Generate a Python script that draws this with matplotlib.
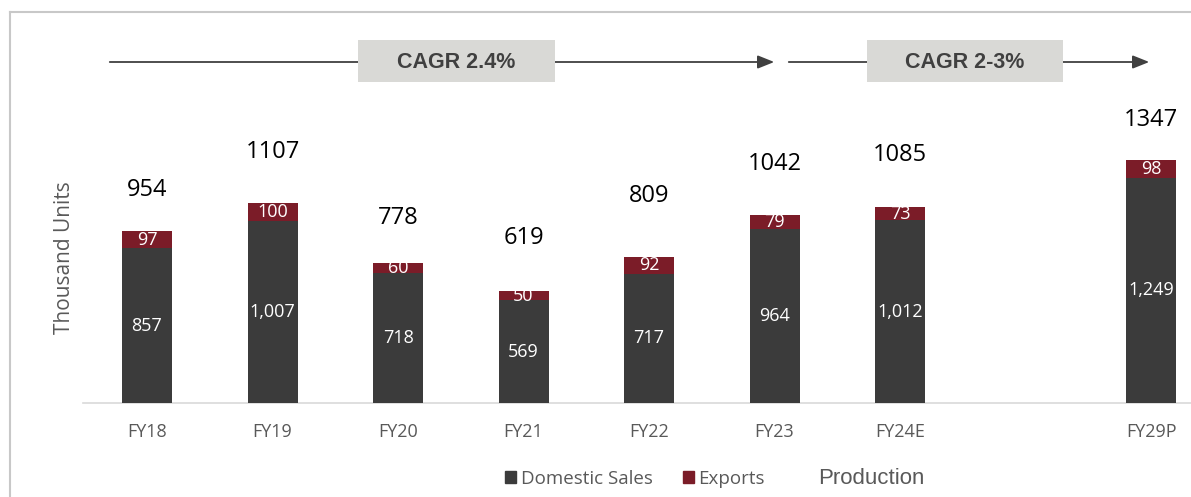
import matplotlib.pyplot as plt
from matplotlib.patches import Patch
from matplotlib.lines import Line2D

# Data
years = ["FY18", "FY19", "FY20", "FY21", "FY22", "FY23", "FY24E", "FY29P"]
slots = [0, 1, 2, 3, 4, 5, 6, 8]          # FY29P sits after an empty slot
domestic = [857, 1007, 718, 569, 717, 964, 1012, 1249]
exports = [97, 100, 60, 50, 92, 79, 73, 98]
totals = [954, 1107, 778, 619, 809, 1042, 1085, 1347]
total_label_y = [1180, 1391, 1025, 914, 1147, 1324, 1374, 1568]
cagr_text = ["CAGR 2.4%", "CAGR 2-3%"]

dark = "#3b3b3b"
maroon = "#7b1c28"
grey_txt = "#595959"
font = "Open Sans"

W, H = 1191, 497
fig = plt.figure(figsize=(W / 100, H / 100), dpi=100)
ax = fig.add_axes([0, 0, 1, 1])

# map pixels -> data: bar centres at 147 + 125.5*slot, baseline at 94 px from bottom
px_per_slot = 125.5
px_per_unit = 0.1805
ax.set_xlim(-147 / px_per_slot, (W - 147) / px_per_slot)
ax.set_ylim(-94 / px_per_unit, (H - 94) / px_per_unit)
ax.axis("off")

bw = 50 / px_per_slot
ax.bar(slots, domestic, bw, color=dark, zorder=3)
ax.bar(slots, exports, bw, bottom=domestic, color=maroon, zorder=3)

for s, d, e, t, ty in zip(slots, domestic, exports, totals, total_label_y):
    ax.text(s, d / 2, f"{d:,}", ha="center", va="center", color="white",
            fontsize=13, family=font, zorder=4)
    ax.text(s, d + e / 2, f"{e}", ha="center", va="center", color="white",
            fontsize=13, family=font, zorder=4)
    ax.text(s, ty, f"{t}", ha="center", va="center", color="black",
            fontsize=17, family=font)
    ax.text(s, -160, years[slots.index(s)], ha="center", va="center",
            color=grey_txt, fontsize=13, family=font)

# baseline
ax.add_line(Line2D([83 / W, 1], [94 / H, 94 / H], transform=ax.transAxes,
                   color="#d9d9d9", lw=1.2))

# frame
ax.add_line(Line2D([10 / W, 10 / W], [0, (H - 12) / H], transform=ax.transAxes,
                   color="#c8c8c8", lw=1.5))
ax.add_line(Line2D([10 / W, 1], [(H - 12) / H, (H - 12) / H],
                   transform=ax.transAxes, color="#c8c8c8", lw=1.5))

# y label
ax.text(65 / W, (H - 258) / H, "Thousand Units", rotation=90, ha="center",
        va="center", color=grey_txt, fontsize=15, family=font,
        transform=ax.transAxes)

# CAGR arrows and boxes
ay = (H - 62) / H
for (x0, x1), (b0, b1), txt in zip([(107, 777), (786, 1152)],
                                   [(358, 555), (867, 1063)], cagr_text):
    ax.annotate("", xy=(x1 / W, ay), xytext=(x0 / W, ay),
                xycoords="axes fraction",
                arrowprops=dict(arrowstyle="-|>,head_length=1.0,head_width=0.4",
                                color="#404040", lw=1.3))
    ax.add_patch(plt.Rectangle((b0 / W, (H - 82) / H), (b1 - b0) / W, 42 / H,
                               transform=ax.transAxes, facecolor="#d9d9d6",
                               edgecolor="none", zorder=5))
    ax.text((b0 + b1) / 2 / W, ay, txt, ha="center", va="center",
            fontsize=15.5, fontweight="bold", family="Liberation Sans",
            color="#404040", transform=ax.transAxes, zorder=6)

# legend
handles = [Patch(color=dark, label="Domestic Sales"),
           Patch(color=maroon, label="Exports")]
leg = ax.legend(handles=handles, loc="center", bbox_to_anchor=(635 / W, 18 / H),
                ncol=2, frameon=False, handlelength=0.6, handleheight=0.6,
                handletextpad=0.25, columnspacing=1.6,
                prop={"family": font, "size": 13.5})
for t in leg.get_texts():
    t.set_color(grey_txt)
ax.text(818 / W, 18 / H, "Production", ha="left", va="center", color=grey_txt,
        fontsize=16, family="Liberation Sans", transform=ax.transAxes)

fig.savefig("out.png", dpi=100)
